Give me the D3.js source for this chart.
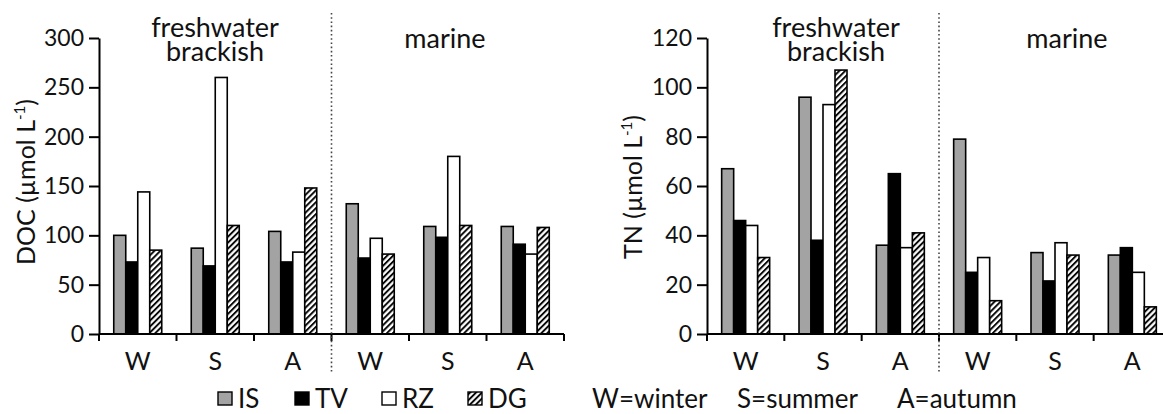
<!DOCTYPE html>
<html>
<head>
<meta charset="utf-8">
<script src="https://cdn.jsdelivr.net/npm/d3@7"></script>
<style>
  html, body { margin: 0; padding: 0; background: #fff; }
  svg { display: block; font-family: Lato, "Open Sans", sans-serif; }
  text { fill: #111; }
</style>
</head>
<body>
<svg id="chart" width="1163" height="414"></svg>
<script>
// Seasons within each water type, and the two water types
const seasons = ["W", "S", "A"];
const zones = ["freshwater brackish", "marine"];
const series = ["IS", "TV", "RZ", "DG"];

// DOC (µmol L-1), order: freshwater W,S,A then marine W,S,A
const docIS = [100, 87, 104, 132, 109, 109];
const docTV = [73, 69, 73, 77, 98, 91];
const docRZ = [144, 260, 83, 97, 180, 81];
const docDG = [85, 110, 148, 81, 110, 108];

// TN (µmol L-1), same order
const tnIS = [67, 96, 36, 79, 33, 32];
const tnTV = [46, 38, 65, 25, 21.5, 35];
const tnRZ = [44, 93, 35, 31, 37, 25];
const tnDG = [31, 107, 41, 13.5, 32, 11];

const docTicks = [0, 50, 100, 150, 200, 250, 300];
const tnTicks = [0, 20, 40, 60, 80, 100, 120];

const legendNote = ["W=winter", "S=summer", "A=autumn"];

const svg = d3.select("#chart");

// diagonal hatch for DG
const defs = svg.append("defs");
const pat = defs.append("pattern")
  .attr("id", "hatch")
  .attr("patternUnits", "userSpaceOnUse")
  .attr("width", 4.2).attr("height", 4.2)
  .attr("patternTransform", "rotate(45)");
pat.append("rect").attr("width", 4.2).attr("height", 4.2).attr("fill", "#fff");
pat.append("line").attr("x1", 1).attr("y1", 0).attr("x2", 1).attr("y2", 4.2)
  .attr("stroke", "#000").attr("stroke-width", 1.9);

const fills = { IS: "#a3a3a3", TV: "#000", RZ: "#fff", DG: "url(#hatch)" };

const groupKeys = [];
zones.forEach(z => seasons.forEach(s => groupKeys.push(z + "|" + s)));

function panel(opts) {
  const g = svg.append("g");
  const x = d3.scaleBand().domain(groupKeys).range([opts.x0, opts.x1]).padding(0);
  const y = d3.scaleLinear().domain(opts.domain).range([334, 38]);
  const inner = d3.scaleBand().domain(series).range([-24, 24]).padding(0);

  // y axis
  const ya = g.append("g").attr("transform", `translate(${opts.x0},0)`)
    .call(d3.axisLeft(y).tickValues(opts.ticks).tickSize(10).tickSizeOuter(0).tickPadding(5));
  ya.select(".domain").attr("stroke", "#000").attr("stroke-width", 2);
  ya.selectAll(".tick line").attr("stroke", "#000").attr("stroke-width", 2);
  ya.selectAll(".tick text").attr("font-size", 23).attr("font-family", "Lato").attr("fill", "#111");

  // bars
  series.forEach((s, si) => {
    const vals = opts.values[si];
    g.append("g").selectAll("rect").data(groupKeys).join("rect")
      .attr("x", k => x(k) + x.bandwidth() / 2 + inner(s))
      .attr("width", inner.bandwidth())
      .attr("y", (k, i) => y(vals[i]))
      .attr("height", (k, i) => y(0) - y(vals[i]))
      .attr("fill", fills[s])
      .attr("stroke", "#000")
      .attr("stroke-width", 1.6);
  });

  // x axis: ticks on group boundaries
  const bounds = groupKeys.map(k => x(k)).concat([opts.x1]);
  g.append("line").attr("x1", opts.x0).attr("x2", opts.x1).attr("y1", 334).attr("y2", 334)
    .attr("stroke", "#000").attr("stroke-width", 2);
  g.append("g").selectAll("line").data(bounds).join("line")
    .attr("x1", d => d).attr("x2", d => d).attr("y1", 334).attr("y2", 341)
    .attr("stroke", "#000").attr("stroke-width", 2);
  g.append("g").selectAll("text").data(groupKeys).join("text")
    .attr("x", k => x(k) + x.bandwidth() / 2)
    .attr("y", 370)
    .attr("text-anchor", "middle")
    .attr("font-size", 25)
    .text(k => k.split("|")[1]);

  // separator between water types
  const sep = x(zones[1] + "|" + seasons[0]);
  g.append("line").attr("x1", sep).attr("x2", sep).attr("y1", 13).attr("y2", 373)
    .attr("stroke", "#444").attr("stroke-width", 1.6).attr("stroke-dasharray", "1.6,2.6");

  // zone headings
  const fw = g.append("text").attr("text-anchor", "middle").attr("font-size", 27);
  fw.append("tspan").attr("x", opts.fwX).attr("y", 37).text("freshwater");
  fw.append("tspan").attr("x", opts.fwX).attr("y", 61).text("brackish");
  g.append("text").attr("x", opts.marX).attr("y", 48).attr("text-anchor", "middle")
    .attr("font-size", 27).text("marine");

  // y label
  const yl = g.append("text")
    .attr("transform", `translate(${opts.labX},${opts.labY}) rotate(-90)`)
    .attr("text-anchor", "middle").attr("font-size", 25);
  yl.append("tspan").text(opts.label + " (µmol L");
  yl.append("tspan").attr("font-size", 15).attr("dy", -10).text("-1");
  yl.append("tspan").attr("dy", 10).text(")");
}

panel({
  x0: 99, x1: 564, domain: [0, 300], ticks: docTicks,
  values: [docIS, docTV, docRZ, docDG],
  fwX: 215, marX: 445, label: "DOC", labX: 35, labY: 182
});

panel({
  x0: 707, x1: 1171, domain: [0, 120], ticks: tnTicks,
  values: [tnIS, tnTV, tnRZ, tnDG],
  fwX: 836, marX: 1067, label: "TN", labX: 642, labY: 187
});

// legend
const leg = svg.append("g");
const legX = [218, 295, 382, 468];
series.forEach((s, i) => {
  leg.append("rect").attr("x", legX[i]).attr("y", 392).attr("width", 14).attr("height", 13)
    .attr("fill", fills[s]).attr("stroke", "#000").attr("stroke-width", 1.4);
  leg.append("text").attr("x", legX[i] + 20).attr("y", 408).attr("font-size", 26).text(s);
});
const noteX = [592, 737, 897];
legendNote.forEach((t, i) => {
  leg.append("text").attr("x", noteX[i]).attr("y", 408).attr("font-size", 26).text(t);
});
</script>
</body>
</html>
